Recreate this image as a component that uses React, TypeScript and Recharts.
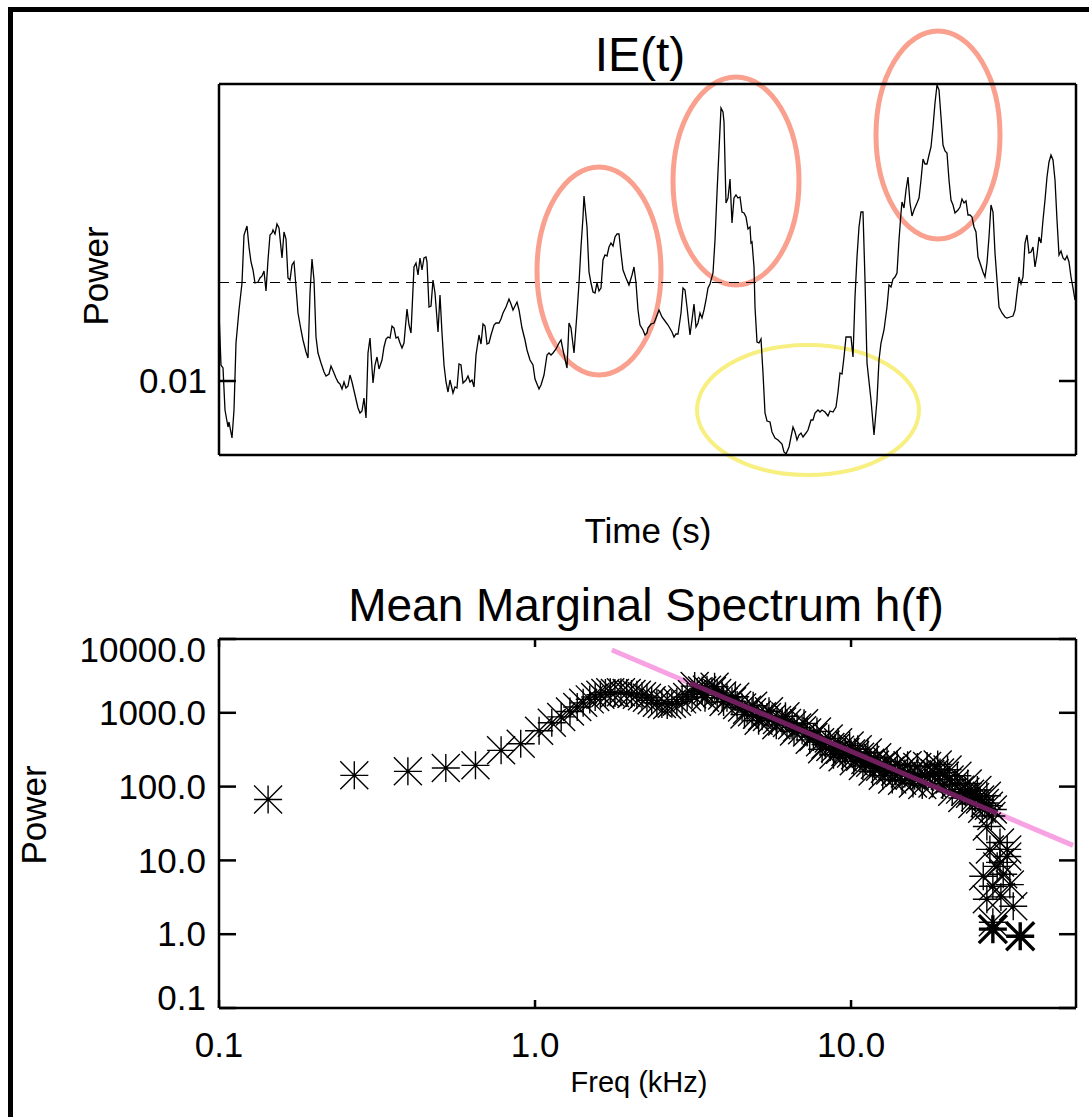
import React from 'react';
import {
  LineChart,
  Line,
  ComposedChart,
  Scatter,
  XAxis,
  YAxis,
  ReferenceLine,
  ReferenceArea,
} from 'recharts';

const FONT = '"Liberation Sans", Arial, Helvetica, sans-serif';

// ---- IE(t) panel ----
const ieTime = [
  0, 2, 4, 6, 9, 10, 13, 15, 17, 20,
  23, 25, 28, 30, 32, 34, 36, 39, 41, 43,
  45, 47, 49, 51, 53, 54, 56, 58, 60, 63,
  65, 67, 69, 71, 73, 75, 77, 79, 82, 84,
  87, 89, 91, 93, 95, 97, 99, 102, 105, 107,
  110, 112, 115, 117, 119, 121, 123, 125, 127, 129,
  131, 133, 136, 139, 141, 143, 145, 146, 147, 149,
  151, 154, 156, 158, 160, 163, 165, 167, 169, 171,
  173, 175, 177, 179, 181, 183, 185, 188, 190, 192,
  195, 197, 199, 201, 203, 205, 207, 208, 210, 212,
  214, 216, 219, 221, 223, 225, 227, 229, 231, 234,
  236, 238, 240, 242, 244, 247, 249, 251, 253, 255,
  257, 260, 262, 264, 266, 268, 270, 272, 275, 277,
  280, 282, 284, 287, 290, 292, 294, 296, 298, 300,
  303, 306, 308, 311, 314, 316, 320, 322, 325, 328,
  330, 332, 334, 337, 340, 342, 344, 348, 350, 352,
  355, 358, 360, 362, 364, 365, 368, 370, 372, 374,
  376, 378, 380, 382, 384, 386, 388, 390, 392, 394,
  396, 398, 400, 402, 404, 407, 410, 413, 415, 417,
  419, 421, 424, 426, 428, 429, 432, 435, 437, 440,
  443, 446, 449, 453, 455, 457, 459, 462, 464, 466,
  468, 471, 473, 475, 477, 479, 481, 483, 485, 487,
  489, 491, 494, 496, 498, 500, 502, 504, 505, 507,
  509, 511, 513, 515, 517, 519, 521, 523, 525, 527,
  529, 531, 532, 533, 535, 536, 538, 540, 542, 544,
  546, 548, 551, 553, 556, 559, 563, 565, 567, 570,
  572, 574, 576, 578, 580, 582, 584, 587, 589, 592,
  594, 596, 599, 601, 603, 606, 609, 611, 614, 617,
  619, 621, 623, 625, 627, 630, 632, 634, 636, 638,
  640, 642, 644, 646, 648, 652, 655, 658, 660, 662,
  665, 668, 670, 672, 674, 676, 678, 680, 682, 683,
  685, 687, 689, 691, 693, 695, 698, 700, 702, 704,
  706, 708, 710, 712, 714, 716, 718, 720, 722, 724,
  726, 728, 730, 732, 734, 736, 739, 741, 743, 745,
  747, 749, 751, 753, 755, 757, 759, 761, 764, 766,
  768, 770, 772, 774, 776, 778, 780, 783, 786, 788,
  791, 794, 796, 798, 800, 802, 804, 806, 808, 810,
  812, 814, 816, 818, 820, 822, 824, 826, 828, 830,
  832, 834, 836, 838, 840, 842, 844, 846, 848, 850,
  852, 854, 856,
];

const iePower = [
  0.01136, 0.01032, 0.01026, 0.00942, 0.00908, 0.00918, 0.00886, 0.00942, 0.01076, 0.01142,
  0.01196, 0.01292, 0.0131, 0.01268, 0.01238, 0.01222, 0.01196, 0.01198, 0.01206, 0.0121,
  0.0122, 0.0118, 0.01242, 0.01292, 0.01296, 0.01302, 0.01294, 0.01314, 0.01306, 0.01246,
  0.01298, 0.01284, 0.01206, 0.01202, 0.01232, 0.01238, 0.01188, 0.01136, 0.01102, 0.01082,
  0.01058, 0.01046, 0.01176, 0.01244, 0.01202, 0.01088, 0.01056, 0.01036, 0.01018, 0.0101,
  0.01014, 0.0103, 0.01016, 0.01006, 0.00998, 0.00994, 0.00984, 0.00998, 0.00986, 0.0099,
  0.01012, 0.00998, 0.00972, 0.00946, 0.00936, 0.0094, 0.00966, 0.00946, 0.00926, 0.01056,
  0.01086, 0.00996, 0.01032, 0.01048, 0.01024, 0.01042, 0.01068, 0.01084, 0.01088, 0.01086,
  0.0111, 0.01106, 0.01086, 0.01088, 0.01076, 0.01066, 0.01076, 0.01144, 0.01112, 0.01096,
  0.01228, 0.01236, 0.01212, 0.01246, 0.01222, 0.01246, 0.01248, 0.01238, 0.01148, 0.0115,
  0.01202, 0.01176, 0.01098, 0.01172, 0.01096, 0.01032, 0.00998, 0.00978, 0.01002, 0.00976,
  0.00988, 0.00986, 0.01034, 0.01032, 0.00996, 0.01002, 0.0101, 0.00998, 0.01002, 0.00988,
  0.01052, 0.01092, 0.01074, 0.01114, 0.0111, 0.01074, 0.01076, 0.01092, 0.01112, 0.01116,
  0.01116, 0.01124, 0.01136, 0.01148, 0.01164, 0.01154, 0.01142, 0.0115, 0.01158, 0.01142,
  0.01106, 0.01082, 0.01062, 0.01042, 0.01032, 0.01004, 0.00984, 0.00992, 0.01012, 0.01052,
  0.01056, 0.01052, 0.01056, 0.01064, 0.01076, 0.01082, 0.01062, 0.01026, 0.01116, 0.01106,
  0.01056, 0.01136, 0.01196, 0.01268, 0.01328, 0.0137, 0.01308, 0.01218, 0.01196, 0.01178,
  0.01176, 0.01196, 0.0118, 0.01186, 0.01242, 0.01252, 0.0125, 0.01268, 0.01276, 0.0127,
  0.01288, 0.01294, 0.01294, 0.01256, 0.01222, 0.01206, 0.01192, 0.01212, 0.01228, 0.01196,
  0.01142, 0.01112, 0.01102, 0.01092, 0.01096, 0.01106, 0.01114, 0.01116, 0.01126, 0.01142,
  0.01128, 0.0112, 0.01112, 0.01098, 0.01088, 0.01094, 0.01094, 0.01136, 0.01186, 0.01182,
  0.01148, 0.01092, 0.01122, 0.01154, 0.01108, 0.01116, 0.01136, 0.01126, 0.01142, 0.01162,
  0.01186, 0.01194, 0.01216, 0.01282, 0.01376, 0.01462, 0.01546, 0.01538, 0.01518, 0.01356,
  0.01366, 0.01404, 0.01316, 0.01366, 0.01372, 0.01366, 0.01368, 0.01338, 0.01336, 0.01328,
  0.01304, 0.01308, 0.01276, 0.01278, 0.01228, 0.01148, 0.01078, 0.01076, 0.01084, 0.01016,
  0.00936, 0.0092, 0.00918, 0.00898, 0.00886, 0.00882, 0.00874, 0.00858, 0.00854, 0.00868,
  0.00888, 0.00908, 0.00898, 0.00882, 0.00892, 0.00896, 0.00888, 0.00896, 0.00902, 0.00922,
  0.00922, 0.00936, 0.00942, 0.00938, 0.00942, 0.00938, 0.0093, 0.0094, 0.00938, 0.00948,
  0.00978, 0.01016, 0.01014, 0.01048, 0.01088, 0.01088, 0.01088, 0.01048, 0.01168, 0.01248,
  0.01308, 0.01338, 0.01338, 0.01202, 0.01036, 0.00962, 0.00892, 0.00962, 0.01042, 0.01076,
  0.01102, 0.01148, 0.01192, 0.01188, 0.01204, 0.01208, 0.01216, 0.01282, 0.01336, 0.01358,
  0.01346, 0.01382, 0.01408, 0.01356, 0.0133, 0.01342, 0.01356, 0.01366, 0.01402, 0.01444,
  0.01434, 0.01434, 0.01452, 0.01468, 0.01508, 0.01556, 0.01592, 0.01582, 0.01528, 0.01472,
  0.0146, 0.01456, 0.01402, 0.01362, 0.01352, 0.01336, 0.01342, 0.01348, 0.01364, 0.01356,
  0.0136, 0.01332, 0.01332, 0.01328, 0.01308, 0.01298, 0.01248, 0.01236, 0.01218, 0.01208,
  0.01236, 0.01288, 0.01352, 0.01338, 0.01256, 0.01202, 0.01148, 0.01136, 0.01128, 0.01126,
  0.01128, 0.0113, 0.01142, 0.01176, 0.01208, 0.01194, 0.01208, 0.01276, 0.01292, 0.01256,
  0.01258, 0.01268, 0.01228, 0.01252, 0.01288, 0.01276, 0.01322, 0.01362, 0.01408, 0.01438,
  0.01452, 0.01442, 0.01402, 0.01322, 0.01252, 0.0126, 0.01246, 0.01242, 0.0125, 0.01238,
  0.01208, 0.01186, 0.01162,
];

const ieTimeRange = [0, 857];
const iePowerRange = [0.00852, 0.01594];
const iePowerTicks = [0.01];
const ieThreshold = 0.01197;

// circled bursts (time / power extents) and the quiet stretch
const burstT0 = [318, 454, 657];
const burstT1 = [442, 580, 781];
const burstP0 = [0.01012, 0.01192, 0.01284];
const burstP1 = [0.01428, 0.01608, 0.017];
const quietT = [478, 700];
const quietP = [0.00812, 0.01072];

// ---- mean marginal spectrum ----
const specFreq = [
  0.143, 0.268, 0.396, 0.522, 0.648, 0.781, 0.901, 1.03, 1.13, 1.21,
  1.29, 1.36, 1.42, 1.49, 1.55, 1.61, 1.67, 1.73, 1.79, 1.87,
  1.95, 2.02, 2.1, 2.18, 2.26, 2.34, 2.43, 2.52, 2.62, 2.71,
  2.81, 2.92, 3.03, 3.14, 3.26, 3.38, 3.5, 3.63, 3.77, 3.91,
  4.05, 4.2, 4.36, 4.52, 4.69, 4.86, 5.04, 5.23, 5.42, 5.62,
  5.83, 6.05, 6.27, 6.51, 6.75, 7.0, 7.26, 7.6, 7.98, 8.3,
  8.6, 8.9, 9.23, 9.6, 10.0, 10.3, 10.68, 11.1, 11.5, 11.9,
  12.36, 12.8, 13.3, 13.8, 14.29, 14.8, 15.4, 15.9, 16.53, 17.1,
  17.8, 18.4, 19.12, 19.8, 20.5, 21.3, 22.13, 23.0, 23.8, 24.7,
  25.6, 26.5, 27.3, 28.1, 3.2, 3.45, 3.7, 3.95, 4.3, 4.6,
  4.9, 5.1, 5.5, 5.8, 6.2, 6.6, 7.1, 7.4, 7.8, 8.1,
  8.5, 8.8, 9.1, 9.4, 9.9, 10.2, 10.5, 10.9, 11.3, 11.7,
  12.1, 12.6, 13.0, 13.5, 14.0, 14.5, 15.1, 15.7, 16.2, 16.8,
  17.4, 18.1, 18.8, 19.5, 20.2, 20.9, 21.7, 22.5, 23.4, 24.2,
  25.1, 26.0, 26.9, 27.8, 26.9, 29.6, 31.2, 29.0, 27.5, 31.2,
  29.6, 26.2, 28.1, 31.8, 26.9, 32.6, 28.1, 30.3, 29.8,
];

const specPower = [
  67, 142, 161, 179, 194, 310, 381, 571, 733, 880,
  1040, 1200, 1365, 1520, 1640, 1760, 1860, 1900, 1860, 1900,
  1860, 1800, 1750, 1680, 1600, 1480, 1365, 1320, 1280, 1330,
  1410, 1520, 1640, 1780, 1920, 2000, 2050, 1980, 1860, 1720,
  1600, 1430, 1280, 1180, 1100, 1020, 940, 900, 880, 840,
  800, 760, 730, 680, 630, 580, 540, 470, 400, 370,
  345, 330, 316, 295, 280, 265, 254, 230, 210, 198,
  186, 175, 165, 160, 155, 150, 145, 140, 136, 140,
  148, 152, 155, 140, 125, 108, 91, 85, 80, 72,
  67, 60, 55, 49, 2300, 1600, 2250, 1400, 1650, 950,
  1250, 780, 1050, 680, 900, 560, 720, 430, 560, 320,
  450, 270, 400, 250, 360, 220, 320, 190, 290, 160,
  250, 140, 220, 125, 200, 120, 195, 110, 185, 105,
  190, 110, 200, 105, 170, 85, 140, 70, 110, 58,
  90, 50, 75, 40, 28.8, 17.5, 11.3, 8.3, 14.1, 14.1,
  9.4, 6.1, 4.46, 4.7, 2.97, 2.39, 1.45, 6.5, 3.2,
];

const heavyFreq = [28.1, 34.3];
const heavyPower = [1.17, 0.94];

// power-law fit, and the part of it lying over the points
const fitFreq = [1.75, 50.4];
const fitPower = [7100, 16];
const fitCoreFreq = [3.1, 29];
const fitCorePower = [2520, 43.5];

const freqRange = [0.1, 51.5];
const freqTicks = [0.1, 1, 10];
const specPowerRange = [0.1, 10000];
const specPowerTicks = [0.1, 1, 10, 100, 1000, 10000];

const zip = (xs: number[], ys: number[], kx: string, ky: string) =>
  xs.slice(0, Math.min(xs.length, ys.length)).map((x, i) => ({ [kx]: x, [ky]: ys[i] }));

const ieData = zip(ieTime, iePower, 't', 'p');
const specData = zip(specFreq, specPower, 'f', 'p');
const heavyData = zip(heavyFreq, heavyPower, 'f', 'p');
const fitData = zip(fitFreq, fitPower, 'f', 'p');
const fitCoreData = zip(fitCoreFreq, fitCorePower, 'f', 'p');

const frame = { stroke: '#000', strokeWidth: 2.5 };
const tickFont = { fill: '#000', fontSize: 35, fontFamily: FONT };

const Asterisk = (props: any) => {
  const { cx, cy, arm = 14, weight = 1.4 } = props;
  if (cx == null || cy == null) return <g />;
  const a = arm;
  return (
    <path
      d={`M${cx - a},${cy}h${2 * a}M${cx},${cy - a}v${2 * a}M${cx - a},${cy - a}l${2 * a},${2 * a}M${cx - a},${cy + a}l${2 * a},${-2 * a}`}
      stroke="#000"
      strokeWidth={weight}
      fill="none"
    />
  );
};

const noMark = () => <g />;
const noLabel = () => <g />;

const ring = (color: string, sw: number) => (props: any) => {
  const { x, y, width, height } = props;
  return (
    <ellipse
      cx={x + width / 2}
      cy={y + height / 2}
      rx={Math.abs(width) / 2}
      ry={Math.abs(height) / 2}
      fill="none"
      stroke={color}
      strokeWidth={sw}
    />
  );
};

const PowerTick = (props: any) => {
  const { x, y, payload } = props;
  const v = payload.value;
  const shift = v >= 10000 ? 11 : v <= 0.1 ? -10 : 0;
  return (
    <text x={x} y={y + shift} dy="0.35em" textAnchor="end" {...tickFont}>
      {v.toFixed(1)}
    </text>
  );
};

const Caption = ({ x, y, size, rotate, children }: any) => (
  <div
    style={{
      position: 'absolute',
      left: x,
      top: y,
      transform: `translate(-50%, -50%)${rotate ? ' rotate(-90deg)' : ''}`,
      fontSize: size,
      lineHeight: 1,
      whiteSpace: 'nowrap',
      color: '#000',
      fontFamily: FONT,
    }}
  >
    {children}
  </div>
);

export default function App() {
  return (
    <div
      style={{
        position: 'absolute',
        left: 0,
        top: 0,
        width: 1089,
        height: 1117,
        background: '#fff',
        overflow: 'hidden',
        fontFamily: FONT,
      }}
    >
      <div
        style={{
          position: 'absolute',
          left: 8,
          top: 7,
          width: 1100,
          height: 1120,
          borderTop: '5px solid #000',
          borderLeft: '5px solid #000',
        }}
      />

      <div style={{ position: 'absolute', left: 0, top: 0 }}>
        <LineChart width={1089} height={560} data={ieData} margin={{ top: 83, right: 12, bottom: 0, left: 0 }}>
          <XAxis
            dataKey="t"
            type="number"
            domain={ieTimeRange}
            allowDataOverflow
            tick={false}
            tickLine={false}
            axisLine={frame}
            height={105}
          />
          <XAxis
            xAxisId="top"
            dataKey="t"
            orientation="top"
            type="number"
            domain={ieTimeRange}
            allowDataOverflow
            tick={false}
            tickLine={false}
            axisLine={frame}
            height={1}
          />
          <YAxis
            type="number"
            domain={iePowerRange}
            allowDataOverflow
            ticks={iePowerTicks}
            interval={0}
            width={219}
            tickSize={-17}
            tickMargin={29}
            tickLine={frame}
            axisLine={frame}
            tick={tickFont}
            tickFormatter={(v: number) => v.toFixed(2)}
          />
          <YAxis
            yAxisId="right"
            orientation="right"
            type="number"
            domain={iePowerRange}
            allowDataOverflow
            ticks={iePowerTicks}
            interval={0}
            width={1}
            tickSize={-17}
            tick={noLabel}
            tickLine={frame}
            axisLine={frame}
          />
          <ReferenceLine y={ieThreshold} stroke="#000" strokeWidth={1.2} strokeDasharray="10 7" />
          <Line
            xAxisId="top"
            yAxisId="right"
            dataKey="p"
            stroke="none"
            dot={false}
            activeDot={false}
            isAnimationActive={false}
          />
          <Line
            dataKey="p"
            type="linear"
            stroke="#000"
            strokeWidth={1.3}
            dot={false}
            isAnimationActive={false}
          />
          {burstT0.map((t0, i) => (
            <ReferenceArea
              key={i}
              x1={t0}
              x2={burstT1[i]}
              y1={burstP0[i]}
              y2={burstP1[i]}
              ifOverflow="visible"
              shape={ring('#f9a08e', 5)}
            />
          ))}
          <ReferenceArea
            x1={quietT[0]}
            x2={quietT[1]}
            y1={quietP[0]}
            y2={quietP[1]}
            ifOverflow="visible"
            shape={ring('#f7ef80', 4)}
          />
        </LineChart>
      </div>

      <div style={{ position: 'absolute', left: 0, top: 560 }}>
        <ComposedChart width={1089} height={557} margin={{ top: 78, right: 12, bottom: 0, left: 0 }}>
          <XAxis
            xAxisId="f"
            dataKey="f"
            type="number"
            scale="log"
            domain={freqRange}
            allowDataOverflow
            ticks={freqTicks}
            interval={0}
            height={109}
            tickSize={-8}
            tickMargin={32}
            tickLine={frame}
            axisLine={frame}
            tick={tickFont}
            tickFormatter={(v: number) => v.toFixed(1)}
          />
          <XAxis
            xAxisId="ftop"
            dataKey="f"
            orientation="top"
            type="number"
            scale="log"
            domain={freqRange}
            allowDataOverflow
            ticks={freqTicks}
            interval={0}
            height={1}
            tickSize={-8}
            tick={noLabel}
            tickLine={frame}
            axisLine={frame}
          />
          <YAxis
            yAxisId="p"
            dataKey="p"
            type="number"
            scale="log"
            domain={specPowerRange}
            allowDataOverflow
            ticks={specPowerTicks}
            interval={0}
            width={219}
            tickSize={-17}
            tickMargin={30}
            tickLine={frame}
            axisLine={frame}
            tick={<PowerTick />}
          />
          <YAxis
            yAxisId="pright"
            dataKey="p"
            orientation="right"
            type="number"
            scale="log"
            domain={specPowerRange}
            allowDataOverflow
            ticks={specPowerTicks}
            interval={0}
            width={1}
            tickSize={-17}
            tick={noLabel}
            tickLine={frame}
            axisLine={frame}
          />
          <Scatter
            xAxisId="ftop"
            yAxisId="pright"
            data={fitData}
            shape={noMark}
            isAnimationActive={false}
          />
          <Scatter
            xAxisId="f"
            yAxisId="p"
            data={fitData}
            line={{ stroke: '#f7a3e3', strokeWidth: 5 }}
            shape={noMark}
            isAnimationActive={false}
          />
          <Scatter
            xAxisId="f"
            yAxisId="p"
            data={specData}
            shape={<Asterisk />}
            isAnimationActive={false}
          />
          <Scatter
            xAxisId="f"
            yAxisId="p"
            data={heavyData}
            shape={<Asterisk weight={3.4} />}
            isAnimationActive={false}
          />
          <Scatter
            xAxisId="f"
            yAxisId="p"
            data={fitCoreData}
            line={{ stroke: '#6e1f5c', strokeWidth: 5 }}
            shape={noMark}
            isAnimationActive={false}
          />
        </ComposedChart>
      </div>

      <Caption x={640} y={55} size={48}>IE(t)</Caption>
      <Caption x={95} y={276} size={35} rotate>Power</Caption>
      <Caption x={648} y={530} size={35}>Time (s)</Caption>
      <Caption x={646} y={605} size={46}>Mean Marginal Spectrum h(f)</Caption>
      <Caption x={33} y={815} size={35} rotate>Power</Caption>
      <Caption x={639} y={1082} size={29}>Freq (kHz)</Caption>
    </div>
  );
}
